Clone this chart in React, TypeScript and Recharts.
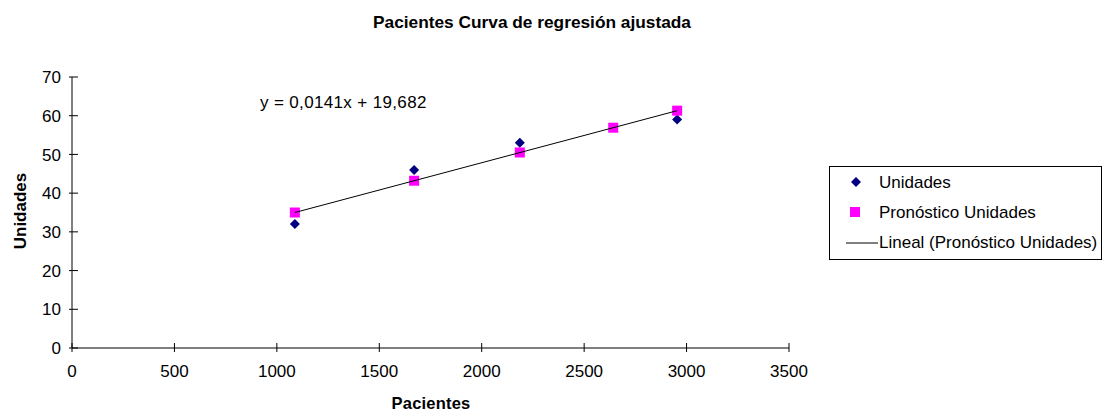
import { ScatterChart, Scatter, XAxis, YAxis } from 'recharts'

const pacientes = [1088, 1670, 2186, 2642, 2954]
const unidades = [32, 46, 53, null, 59]
const pronostico = [35.0, 43.2, 50.5, 56.9, 61.3]
const xTicks = [0, 500, 1000, 1500, 2000, 2500, 3000, 3500]
const yTicks = [0, 10, 20, 30, 40, 50, 60, 70]

const unidadesData = pacientes
  .map((x, i) => ({ x, y: unidades[i] }))
  .filter((d) => d.y !== null)
const pronosticoData = pacientes.map((x, i) => ({ x, y: pronostico[i] }))
const tendencia = [pronosticoData[0], pronosticoData[pronosticoData.length - 1]]

const FONT = '"Liberation Sans", Arial, sans-serif'
const FS = 17

const Diamond = (props: any) => {
  const { cx, cy } = props
  return <polygon points={`${cx},${cy - 5} ${cx + 5},${cy} ${cx},${cy + 5} ${cx - 5},${cy}`} fill="#000080" />
}

const Square = (props: any) => {
  const { cx, cy } = props
  return <rect x={cx - 5} y={cy - 5} width={10} height={10} fill="#ff00ff" />
}

const Nothing = () => <g />

// tick marks cross the axis, like the Excel original
const XTick = (props: any) => {
  const { x, y, payload } = props
  return (
    <g>
      <line x1={x} x2={x} y1={y - 17} y2={y - 8} stroke="#000" />
      <text x={x} y={y + 17} textAnchor="middle" fontSize={FS} fontFamily={FONT} fill="#000">
        {payload.value}
      </text>
    </g>
  )
}

const YTick = (props: any) => {
  const { x, y, payload } = props
  return (
    <g>
      <line x1={x + 8} x2={x + 17} y1={y} y2={y} stroke="#000" />
      <text x={x} y={y} dy="0.36em" textAnchor="end" fontSize={FS} fontFamily={FONT} fill="#000">
        {payload.value}
      </text>
    </g>
  )
}

function LegendBox() {
  return (
    <div
      style={{
        position: 'absolute',
        left: 829,
        top: 166,
        width: 271,
        height: 92,
        border: '1px solid #000',
        fontSize: FS,
        color: '#000',
      }}
    >
      <svg width={50} height={92} style={{ position: 'absolute', left: 0, top: 0 }}>
        <polygon points="26,10 31,15 26,20 21,15" fill="#000080" />
        <rect x={20} y={40} width={10} height={10} fill="#ff00ff" />
        <line x1={16} y1={76} x2={48} y2={76} stroke="#000" strokeWidth={1} />
      </svg>
      <div style={{ position: 'absolute', left: 49, top: 6, whiteSpace: 'nowrap' }}>Unidades</div>
      <div style={{ position: 'absolute', left: 49, top: 36, whiteSpace: 'nowrap' }}>Pronóstico Unidades</div>
      <div style={{ position: 'absolute', left: 49, top: 66, whiteSpace: 'nowrap' }}>Lineal (Pronóstico Unidades)</div>
    </div>
  )
}

export default function App() {
  return (
    <div style={{ position: 'absolute', left: 0, top: 0, width: 1102, height: 413, background: '#fff', fontFamily: FONT, overflow: 'hidden' }}>
      <div
        style={{
          position: 'absolute',
          top: 12,
          left: 372,
          width: 320,
          textAlign: 'center',
          fontWeight: 'bold',
          fontSize: 17.3,
          whiteSpace: 'nowrap',
        }}
      >
        Pacientes Curva de regresión ajustada
      </div>
      <div style={{ position: 'absolute', left: 260, top: 93, fontSize: FS, letterSpacing: 0.35, whiteSpace: 'nowrap' }}>
        y = 0,0141x + 19,682
      </div>
      <div
        style={{
          position: 'absolute',
          left: 20.5,
          top: 211,
          transform: 'translate(-50%, -50%) rotate(-90deg)',
          fontWeight: 'bold',
          fontSize: FS,
          whiteSpace: 'nowrap',
        }}
      >
        Unidades
      </div>
      <div
        style={{
          position: 'absolute',
          left: 431,
          top: 403,
          transform: 'translate(-50%, -50%)',
          fontWeight: 'bold',
          fontSize: 16.5,
          letterSpacing: 0.2,
          lineHeight: '13px',
          whiteSpace: 'nowrap',
        }}
      >
        Pacientes
      </div>
      <ScatterChart width={1102} height={413} margin={{ top: 77, right: 313, bottom: 35, left: 42 }}>
        <XAxis
          type="number"
          dataKey="x"
          domain={[0, 3500]}
          ticks={xTicks}
          height={30}
          tickSize={4}
          tickMargin={8}
          tickLine={false}
          stroke="#000"
          tick={XTick}
        />
        <YAxis
          type="number"
          dataKey="y"
          domain={[0, 70]}
          ticks={yTicks}
          width={30}
          tickSize={4}
          tickMargin={7}
          tickLine={false}
          stroke="#000"
          tick={YTick}
        />
        <Scatter name="Unidades" data={unidadesData} shape={Diamond} isAnimationActive={false} />
        <Scatter name="Pronóstico Unidades" data={pronosticoData} shape={Square} isAnimationActive={false} />
        <Scatter
          name="Lineal (Pronóstico Unidades)"
          data={tendencia}
          line={{ stroke: '#000', strokeWidth: 1 }}
          shape={Nothing}
          isAnimationActive={false}
        />
      </ScatterChart>
      <LegendBox />
    </div>
  )
}
